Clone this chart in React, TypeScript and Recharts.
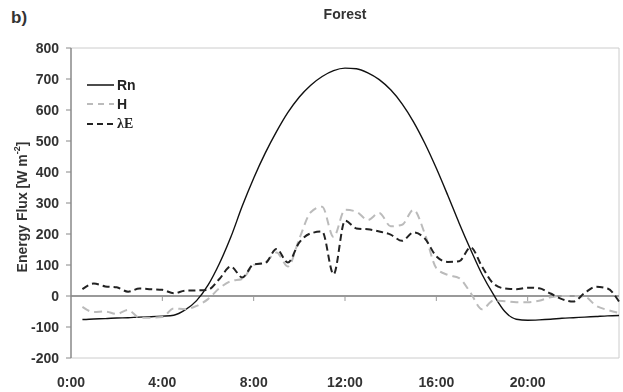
import React from "react"
import { LineChart, Line, XAxis, YAxis, ReferenceLine } from "recharts"

// half-hourly time stamps (hours)
const hours = [
  0.5, 1, 1.5, 2, 2.5, 3, 3.5, 4, 4.5, 5, 5.5, 6, 6.5, 7, 7.5, 8,
  8.5, 9, 9.5, 10, 10.5, 11, 11.5, 12, 12.5, 13, 13.5, 14, 14.5, 15, 15.5, 16,
  16.5, 17, 17.5, 18, 18.5, 19, 19.5, 20, 20.5, 21, 21.5, 22, 22.5, 23, 23.5, 24,
]

const rn = [
  -76, -74, -73, -71, -70, -68, -67, -65, -62, -45, -15, 35, 105, 190, 290, 380,
  460, 530, 592, 642, 680, 708, 727, 735, 733, 720, 698, 665, 620, 562, 492, 412,
  325, 235, 150, 70, 5, -50, -75, -78, -77, -75, -72, -70, -68, -66, -64, -63,
]

const h = [
  -35, -52, -50, -58, -45, -70, -70, -68, -40, -43, -32, -10, 25, 48, 55, 100,
  108, 140, 95, 185, 270, 288, 190, 278, 272, 245, 268, 225, 230, 278, 200, 90,
  68, 58, 10, -43, -15, -17, -20, -20, -15, -4, 0, 0, -2, -32, -45, -55,
]

const le = [
  22, 40, 31, 28, 14, 24, 22, 20, 9, 17, 18, 20, 55, 95, 60, 102,
  106, 152, 108, 173, 202, 208, 70, 243, 218, 215, 208, 198, 178, 205, 185, 128,
  110, 112, 157, 95, 40, 24, 22, 27, 25, 8, -10, -18, 10, 30, 24, -18,
]

const xTicks = [0, 4, 8, 12, 16, 20]
const yTicks = [-200, -100, 0, 100, 200, 300, 400, 500, 600, 700, 800]

const data = hours.map((t, i) => ({ t, rn: rn[i], h: h[i], le: le[i] }))

const font = "'Liberation Sans', Arial, sans-serif"
const tickStyle = { fontSize: 14, fontWeight: 700, fill: "#333", fontFamily: font }

const legendItems = [
  { key: "rn", label: "Rn", color: "#111", dash: undefined, serif: false },
  { key: "h", label: "H", color: "#bbb", dash: "6 5", serif: false },
  { key: "le", label: "λE", color: "#222", dash: "6 4", serif: true },
]

function LegendBox() {
  return (
    <div style={{ position: "absolute", left: 87, top: 75 }}>
      {legendItems.map((it) => (
        <div key={it.key} style={{ display: "flex", alignItems: "center", height: 19.5 }}>
          <svg width={28} height={6}>
            <line x1={0} y1={3} x2={27} y2={3} stroke={it.color} strokeWidth={it.dash ? 2 : 1.5} strokeDasharray={it.dash} />
          </svg>
          <span
            style={{
              marginLeft: 2,
              fontSize: 14,
              fontWeight: 700,
              color: "#222",
              lineHeight: "16px",
              fontFamily: it.serif ? "'Liberation Serif', 'Times New Roman', serif" : font,
            }}
          >
            {it.label}
          </span>
        </div>
      ))}
    </div>
  )
}

function YLabel(props: any) {
  const vb = props.viewBox || {}
  const x = vb.x + 22
  const y = vb.y + vb.height / 2 + 4
  return (
    <text
      x={x}
      y={y}
      transform={`rotate(-90, ${x}, ${y})`}
      textAnchor="middle"
      dominantBaseline="central"
      style={{ fontSize: 14, fontWeight: 700, fill: "#333", fontFamily: font }}
    >
      Energy Flux [W m<tspan dy={-5} fontSize={9}>-2</tspan><tspan dy={5}>]</tspan>
    </text>
  )
}

export default function App() {
  return (
    <div style={{ position: "fixed", left: 0, top: 0, width: 623, height: 392, background: "#fff" }}>
      <div style={{ position: "absolute", left: 11, top: 8, fontSize: 17, fontWeight: 700, color: "#333", fontFamily: font }}>
        b)
      </div>
      <div
        style={{
          position: "absolute",
          left: 0,
          top: 6,
          width: 690,
          textAlign: "center",
          fontSize: 14,
          fontWeight: 700,
          color: "#333",
          fontFamily: font,
        }}
      >
        Forest
      </div>
      <LineChart width={623} height={392} data={data} margin={{ top: 48, right: 4, left: 0, bottom: 0 }}>
        <XAxis
          dataKey="t"
          type="number"
          domain={[0, 24]}
          ticks={xTicks}
          tickFormatter={(v) => `${v}:00`}
          axisLine={false}
          tickLine={false}
          tickSize={0}
          tickMargin={19}
          height={34}
          tick={tickStyle}
          interval={0}
        />
        <YAxis
          domain={[-200, 800]}
          ticks={yTicks}
          interval={0}
          width={71}
          tickSize={5}
          tickMargin={7}
          tick={tickStyle}
          axisLine={{ stroke: "#888", strokeWidth: 1.5 }}
          tickLine={{ stroke: "#888" }}
          label={<YLabel />}
        />
        <ReferenceLine y={800} stroke="#ccc" strokeWidth={1} />
        <ReferenceLine y={-200} stroke="#ccc" strokeWidth={1} />
        <ReferenceLine x={24} stroke="#ccc" strokeWidth={1} />
        <ReferenceLine y={0} stroke="#999" strokeWidth={2} />
        {[4, 8, 12, 16, 20].map((t) => (
          <ReferenceLine
            key={t}
            segment={[{ x: t, y: 0 }, { x: t, y: -16 }]}
            stroke="#999"
            strokeWidth={1}
          />
        ))}
        <Line type="monotone" dataKey="rn" stroke="#111" strokeWidth={1.4} dot={false} isAnimationActive={false} />
        <Line type="monotone" dataKey="h" stroke="#bbb" strokeWidth={2} strokeDasharray="8 5" dot={false} isAnimationActive={false} />
        <Line type="monotone" dataKey="le" stroke="#222" strokeWidth={2} strokeDasharray="7 4" dot={false} isAnimationActive={false} />
      </LineChart>
      <LegendBox />
    </div>
  )
}
